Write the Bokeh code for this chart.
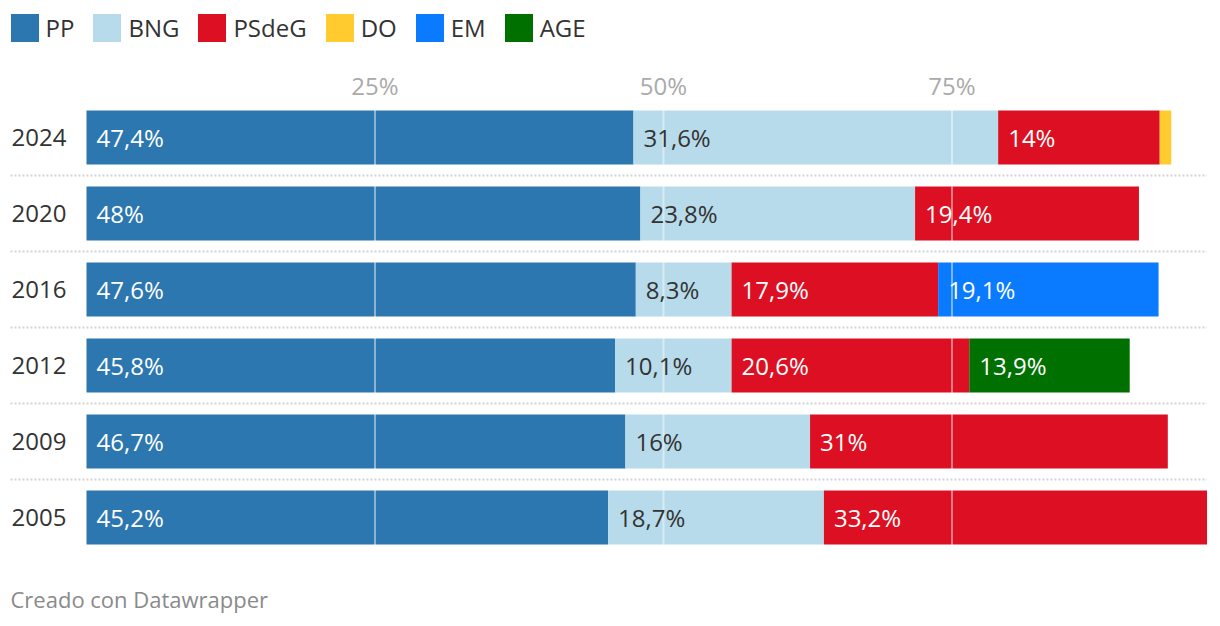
from bokeh.plotting import figure
from bokeh.models import Range1d, Legend, LegendItem, Label, ColumnDataSource
from bokeh.embed import file_html
from bokeh.resources import INLINE
from bokeh.core.properties import value

# ---- data ----
years = ["2024", "2020", "2016", "2012", "2009", "2005"]
parties = ["PP", "BNG", "PSdeG", "DO", "EM", "AGE"]
pp = [47.4, 48.0, 47.6, 45.8, 46.7, 45.2]
bng = [31.6, 23.8, 8.3, 10.1, 16.0, 18.7]
psdeg = [14.0, 19.4, 17.9, 20.6, 31.0, 33.2]
do = [1.0, 0, 0, 0, 0, 0]
em = [0, 0, 19.1, 0, 0, 0]
age = [0, 0, 0, 13.9, 0, 0]
ticks = [25, 50, 75]

# ---- style / layout ----
colors = ["#2c77b0", "#b7dbea", "#dc1022", "#ffcb2f", "#0a7bff", "#007000"]
label_colors = ["white", "#333333", "white", "#333333", "white", "white"]
FONT = "Open Sans"
W, H = 1220, 626
PX = 577 / 50.0            # pixels per percentage point
X0PX = 86.0                # pixel of 0 %
ROW = 76.0                 # pixels per row
Y0PX = 137.0               # pixel centre of first row
X_START = -X0PX / PX
X_END = (W - X0PX) / PX
Y_TOP = -Y0PX / ROW
Y_BOT = (H - Y0PX) / ROW

series = [pp, bng, psdeg, do, em, age]
rows = list(range(len(years)))

data = {"y": rows}
for name, vals in zip(parties, series):
    data[name] = vals
src = ColumnDataSource(data)

p = figure(width=W, height=H, x_range=Range1d(X_START, X_END),
           y_range=Range1d(Y_BOT, Y_TOP),
           x_axis_location=None, y_axis_location=None,
           toolbar_location=None, output_backend="svg",
           min_border_left=0, min_border_right=0, min_border_top=0, min_border_bottom=0)
p.outline_line_color = None
for g in p.grid:
    g.visible = False

renderers = p.hbar_stack(parties, y="y", height=54 / ROW, color=colors,
                         line_color=None, source=src)

# grid lines over the bars
n = len(years)
p.segment(x0=ticks, x1=ticks, y0=[-0.5] * len(ticks), y1=[n - 0.5] * len(ticks),
          line_color="white", line_alpha=0.45, line_width=2)

# tick labels (top)
p.text(x=ticks, y=[-0.5] * len(ticks), text=["%d%%" % t for t in ticks], y_offset=-14,
       text_font=value(FONT), text_font_size="24px", text_color="#aaaaaa",
       text_align="center", text_baseline="middle")

# separators
totals = [sum(s[i] for s in series) for i in rows]
sep_y = [i + 0.5 for i in rows[:-1]]
p.segment(x0=[X_START + 10 / PX] * len(sep_y), x1=[max(totals)] * len(sep_y),
          y0=sep_y, y1=sep_y, line_color="#d4d4d4", line_width=2, line_dash="2 2")

# year labels
p.text(x=[X_START] * n, y=rows, text=years, x_offset=11,
       text_font=value(FONT), text_font_size="24px", text_color="#333333",
       text_baseline="middle", text_align="left")

# bar value labels
lx, ly, lt, lc = [], [], [], []
for i in rows:
    left = 0.0
    for s, col in zip(series, label_colors):
        v = s[i]
        if v >= 5:
            lx.append(left)
            ly.append(i)
            lt.append(("%g" % v).replace(".", ",") + "%")
            lc.append(col)
        left += v
lsrc = ColumnDataSource(dict(x=lx, y=ly, t=lt, c=lc))
p.text(x="x", y="y", text="t", text_color="c", source=lsrc, x_offset=10,
       text_font=value(FONT), text_font_size="24px",
       text_baseline="middle", text_align="left")

# legend
legend = Legend(items=[LegendItem(label=nm, renderers=[r]) for nm, r in zip(parties, renderers)],
                orientation="horizontal", location=(6.5, H - 9.5 - 35),
                glyph_width=35, glyph_height=35, label_standoff=4, spacing=15,
                label_text_font=FONT, label_text_font_size="24px", label_text_color="#333333",
                border_line_color=None, background_fill_alpha=0, padding=0, margin=0)
p.add_layout(legend, "center")

# footer
p.add_layout(Label(x=10, y=H - 598, x_units="screen", y_units="screen",
                   text="Creado con Datawrapper", text_font=FONT, text_font_size="22px",
                   text_color="#8a8a8a", text_baseline="middle", text_align="left"))

open("out.html", "w").write(file_html(p, INLINE))
